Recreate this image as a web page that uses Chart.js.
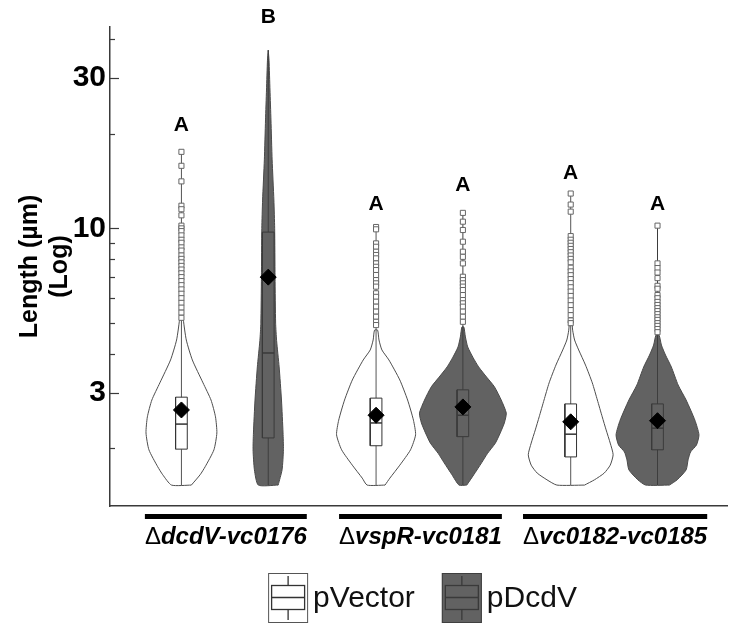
<!DOCTYPE html>
<html>
<head>
<meta charset="utf-8">
<title>Cell length – violin plot</title>
<style>
  html, body { margin: 0; padding: 0; background: #fff; }
  #wrap { width: 736px; height: 627px; }
</style>
<script src="https://cdn.jsdelivr.net/npm/chart.js@4.4.1/dist/chart.umd.min.js"></script>
</head>
<body>
<div id="wrap"><canvas id="violinChart"></canvas></div>
<script>
// ── Defaults ───────────────────────────────────────────────
Chart.defaults.font.family = "'Liberation Sans', Arial, sans-serif";
Chart.defaults.color = '#000';

// ── Data (cell length, µm) ─────────────────────────────────
const groups  = ['ΔdcdV-vc0176', 'ΔvspR-vc0181', 'Δvc0182-vc0185'];
const strains = ['pVector', 'pDcdV'];
const yTicks  = [2, 3, 4, 5, 6, 7, 8, 9, 10, 20, 30, 40];
const yLabels = [3, 10, 30];

// order: dcdV/pVector, dcdV/pDcdV, vspR/pVector, vspR/pDcdV, vc0182/pVector, vc0182/pDcdV
const letters     = ['A', 'B', 'A', 'A', 'A', 'A'];
const letterLevel = [21.3, 46.8, 11.9, 13.7, 15.0, 11.9];
const q1      = [1.99, 2.16, 2.04, 2.18, 1.88, 1.98];
const medians = [2.39, 4.02, 2.41, 2.55, 2.22, 2.32];
const q3      = [2.91, 9.73, 2.89, 3.07, 2.77, 2.77];
const means   = [2.65, 7.00, 2.55, 2.71, 2.43, 2.45];

// violin outlines: length levels and half-widths (in group units)
const levels1 = [1.53, 1.65, 1.75, 1.98, 2.24, 2.52, 2.85, 3.23, 3.82, 4.42, 5.12, 5.71];
const widths1 = [0.051, 0.096, 0.122, 0.167, 0.182, 0.175, 0.152, 0.111, 0.056, 0.025, 0.010, 0.005];
const levels2 = [1.53, 1.71, 1.98, 2.24, 2.85, 3.63, 4.40, 5.00, 7.00, 10.0, 12.3, 16.5, 22.1, 27.5, 34.2, 36.8];
const widths2 = [0.051, 0.071, 0.078, 0.076, 0.068, 0.056, 0.043, 0.038, 0.035, 0.033, 0.029, 0.020, 0.014, 0.009, 0.004, 0];
const levels3 = [1.53, 1.61, 1.77, 1.98, 2.21, 2.46, 2.85, 3.30, 3.82, 4.11, 4.42, 4.75];
const widths3 = [0.046, 0.071, 0.122, 0.177, 0.203, 0.192, 0.162, 0.122, 0.066, 0.030, 0.015, 0.008];
const levels4 = [1.53, 1.65, 1.80, 1.93, 2.08, 2.24, 2.41, 2.59, 2.85, 3.14, 3.37, 3.63, 3.90, 4.20, 4.52, 4.86];
const widths4 = [0.020, 0.056, 0.096, 0.127, 0.167, 0.192, 0.213, 0.223, 0.197, 0.162, 0.122, 0.081, 0.051, 0.025, 0.013, 0.005];
const levels5 = [1.53, 1.59, 1.67, 1.77, 1.91, 2.08, 2.29, 2.52, 2.85, 3.23, 3.68, 4.11, 4.42, 4.75, 5.12];
const widths5 = [0.071, 0.122, 0.172, 0.203, 0.218, 0.203, 0.182, 0.162, 0.137, 0.111, 0.076, 0.041, 0.020, 0.010, 0.005];
const levels6 = [1.53, 1.59, 1.71, 1.84, 1.95, 2.05, 2.21, 2.46, 2.85, 3.18, 3.63, 3.96, 4.26, 4.58];
const widths6 = [0.061, 0.101, 0.147, 0.157, 0.170, 0.200, 0.213, 0.192, 0.147, 0.106, 0.071, 0.041, 0.020, 0.008];

// outlier cells
const outliers1 = [17.5, 15.8, 14.1, 11.8, 11.5, 11.0, 10.2, 10.0, 9.8, 9.5, 9.2, 9.0, 8.7, 8.5, 8.2, 8.0,
                   7.8, 7.6, 7.4, 7.2, 7.0, 6.8, 6.6, 6.4, 6.2, 6.0, 5.8, 5.6, 5.4, 5.2];
const outliers2 = [];
const outliers3 = [10.1, 9.93, 8.96, 8.74, 8.43, 8.23, 8.03, 7.74, 7.55, 7.37, 7.11, 6.85, 6.69, 6.53,
                   6.22, 6.06, 5.85, 5.64, 5.44, 5.24, 5.05, 4.93];
const outliers4 = [11.2, 10.5, 9.88, 9.07, 8.43, 8.12, 7.74, 7.02, 6.85, 6.69, 6.53, 6.37, 6.14, 5.92,
                   5.78, 5.64, 5.44, 5.24, 5.05];
const outliers5 = [12.9, 11.9, 11.3, 9.45, 9.2, 9.0, 8.8, 8.6, 8.4, 8.2, 8.0, 7.8, 7.5, 7.3, 7.1, 6.9,
                   6.7, 6.5, 6.3, 6.1, 5.9, 5.7, 5.5, 5.3, 5.1, 5.0];
const outliers6 = [10.2, 7.74, 7.48, 7.24, 6.95, 6.57, 6.43, 6.14, 6.0, 5.84, 5.71, 5.58, 5.46, 5.34,
                   5.22, 5.12, 5.0, 4.90, 4.79, 4.68];

// ── Styling ────────────────────────────────────────────────
const FILL     = ['#ffffff', '#626262'];
const EDGE     = ['#4d4d4d', '#4a4a4a'];
const BOX_EDGE = ['#333333', '#3a3a3a'];
const DODGE    = 0.223;   // offset of each strain from group centre
const BOX_HALF = 0.03;

const levels   = [levels1, levels2, levels3, levels4, levels5, levels6];
const widths   = [widths1, widths2, widths3, widths4, widths5, widths6];
const outliers = [outliers1, outliers2, outliers3, outliers4, outliers5, outliers6];

const centreOf = i => Math.floor(i / 2) + 1 + (i % 2 ? DODGE : -DODGE);

// ── Build datasets ─────────────────────────────────────────
const datasets = [];
levels.forEach((lv, i) => {
  const s = i % 2;
  const cx = centreOf(i);
  const wd = widths[i];
  const right = lv.map((y, k) => ({ x: cx + wd[k], y }));
  const left = lv.map((y, k) => ({ x: cx - wd[k], y })).reverse();
  const top = Math.max(lv[lv.length - 1], ...outliers[i]);

  datasets.push({   // violin
    label: strains[s], data: [...right, ...left, right[0]], showLine: true, fill: 'shape',
    backgroundColor: FILL[s], borderColor: EDGE[s], borderWidth: 1, pointRadius: 0,
    tension: 0.2, borderJoinStyle: 'round', order: 6
  });
  datasets.push({   // whisker / centre line
    data: [{ x: cx, y: lv[0] }, { x: cx, y: top }], showLine: true,
    borderColor: s ? '#3d3d3d' : '#555', borderWidth: 1, pointRadius: 0, order: 5
  });
  datasets.push({   // box
    data: [
      { x: cx - BOX_HALF, y: q1[i] }, { x: cx + BOX_HALF, y: q1[i] },
      { x: cx + BOX_HALF, y: q3[i] }, { x: cx - BOX_HALF, y: q3[i] },
      { x: cx - BOX_HALF, y: q1[i] }
    ],
    showLine: true, fill: 'shape', backgroundColor: FILL[s], borderColor: BOX_EDGE[s],
    borderWidth: 1, pointRadius: 0, order: 4
  });
  datasets.push({   // median
    data: [{ x: cx - BOX_HALF, y: medians[i] }, { x: cx + BOX_HALF, y: medians[i] }],
    showLine: true, borderColor: BOX_EDGE[s], borderWidth: 1.5, pointRadius: 0, order: 3
  });
  datasets.push({   // outliers
    data: outliers[i].map(y => ({ x: cx, y })), showLine: false, pointStyle: 'rect',
    pointRadius: 3.6, pointBorderWidth: 1, pointBorderColor: '#666', pointBackgroundColor: '#fff', order: 2
  });
  datasets.push({   // mean
    data: [{ x: cx, y: means[i] }], showLine: false, pointStyle: 'rectRot',
    pointRadius: 8, pointBackgroundColor: '#000', pointBorderColor: '#000', order: 1
  });
});

// ── Extras: inward ticks, letters, group labels, key ──────
function drawKeyIcon(ctx, x, y, w, h, s) {
  const cx = x + w / 2;
  ctx.fillStyle = FILL[s];
  ctx.fillRect(x, y, w, h);
  ctx.lineWidth = 1;
  ctx.strokeStyle = s ? '#3f3f3f' : '#555';
  ctx.strokeRect(x + 0.5, y + 0.5, w - 1, h - 1);
  ctx.strokeStyle = BOX_EDGE[s];
  ctx.lineWidth = 1.3;
  ctx.strokeRect(x + 3.5, y + h * 0.25, w - 7, h * 0.48);
  ctx.beginPath();
  ctx.moveTo(cx, y + h * 0.06); ctx.lineTo(cx, y + h * 0.25);
  ctx.moveTo(cx, y + h * 0.73); ctx.lineTo(cx, y + h * 0.94);
  ctx.moveTo(x + 3.5, y + h * 0.49); ctx.lineTo(x + w - 3.5, y + h * 0.49);
  ctx.stroke();
}

const extras = {
  id: 'extras',
  afterDatasetsDraw(chart) {
    const { ctx, scales: { x, y } } = chart;
    ctx.save();
    ctx.fillStyle = '#000';
    ctx.font = "bold 21px 'Liberation Sans', Arial, sans-serif";
    ctx.textAlign = 'center';
    ctx.textBaseline = 'middle';
    letters.forEach((t, i) => ctx.fillText(t, x.getPixelForValue(centreOf(i)), y.getPixelForValue(letterLevel[i])));
    ctx.restore();
  },
  afterDraw(chart) {
    const { ctx, chartArea, scales: { x, y } } = chart;
    ctx.save();

    // inward ticks on the y axis
    ctx.strokeStyle = '#3a3a3a';
    ctx.lineWidth = 1.2;
    y.ticks.forEach(t => {
      const py = Math.round(y.getPixelForValue(t.value)) + 0.5;
      const len = yLabels.includes(t.value) ? 9 : 5;
      ctx.beginPath();
      ctx.moveTo(chartArea.left, py);
      ctx.lineTo(chartArea.left + len, py);
      ctx.stroke();
    });

    // group labels with bars
    const rest = "italic bold 24px 'Liberation Sans', Arial, sans-serif";
    const delta = "24px 'Liberation Sans', Arial, sans-serif";
    ctx.textBaseline = 'middle';
    ctx.textAlign = 'left';
    groups.forEach((g, i) => {
      const cx = x.getPixelForValue(i + 1) + 1;
      ctx.font = delta;
      const wd = ctx.measureText('Δ').width;
      ctx.font = rest;
      const wr = ctx.measureText(g.slice(1)).width;
      const x0 = cx - (wd + wr) / 2;
      ctx.fillStyle = '#000';
      ctx.fillRect(x0, chartArea.bottom + 8, wd + wr, 5);
      ctx.font = delta;
      ctx.fillText('Δ', x0, chartArea.bottom + 31);
      ctx.font = rest;
      ctx.fillText(g.slice(1), x0 + wd, chartArea.bottom + 31);
    });

    // key
    ctx.font = "30px 'Liberation Sans', Arial, sans-serif";
    const iconW = 40, iconH = 50, gap = 5, between = 27;
    const tw = strains.map(s => ctx.measureText(s).width);
    const total = strains.length * (iconW + gap) + tw[0] + tw[1] + between;
    let kx = (chartArea.left + chartArea.right) / 2 - total / 2 + 4;
    const ky = chartArea.bottom + 67;
    strains.forEach((s, i) => {
      drawKeyIcon(ctx, kx, ky, iconW, iconH, i);
      ctx.fillStyle = '#111';
      ctx.fillText(s, kx + iconW + gap, ky + iconH / 2 + 1);
      kx += iconW + gap + tw[i] + between;
    });
    ctx.restore();
  }
};

// ── Chart ──────────────────────────────────────────────────
new Chart(document.getElementById('violinChart'), {
  type: 'scatter',
  data: { datasets },
  plugins: [extras],
  options: {
    responsive: true,
    maintainAspectRatio: false,
    animation: false,
    events: [],
    layout: { padding: { top: 27, left: 0, right: 0, bottom: 0 } },
    plugins: { legend: { display: false }, tooltip: { enabled: false } },
    scales: {
      x: {
        type: 'linear', min: 0.41, max: 3.58, bounds: 'data',
        grid: { display: false, drawTicks: false },
        border: { display: true, color: '#3a3a3a', width: 1.5 },
        ticks: { display: false },
        afterFit: scale => { scale.height = 121; }
      },
      y: {
        type: 'logarithmic', min: 1.313, max: 43.6, bounds: 'data',
        grid: { display: false, drawTicks: false },
        border: { display: true, color: '#3a3a3a', width: 1.5 },
        afterBuildTicks: scale => { scale.ticks = yTicks.map(v => ({ value: v })); },
        ticks: {
          padding: 4,
          autoSkip: false,
          font: { size: 30, weight: 'bold' },
          color: '#000',
          callback: v => (yLabels.includes(v) ? String(v) : '')
        },
        title: {
          display: true,
          text: ['Length (µm)', '(Log)'],
          font: { size: 25, weight: 'bold' },
          color: '#000',
          padding: { top: 15, bottom: 0 }
        },
        afterFit: scale => { scale.width = 110; }
      }
    }
  }
});
</script>
</body>
</html>
